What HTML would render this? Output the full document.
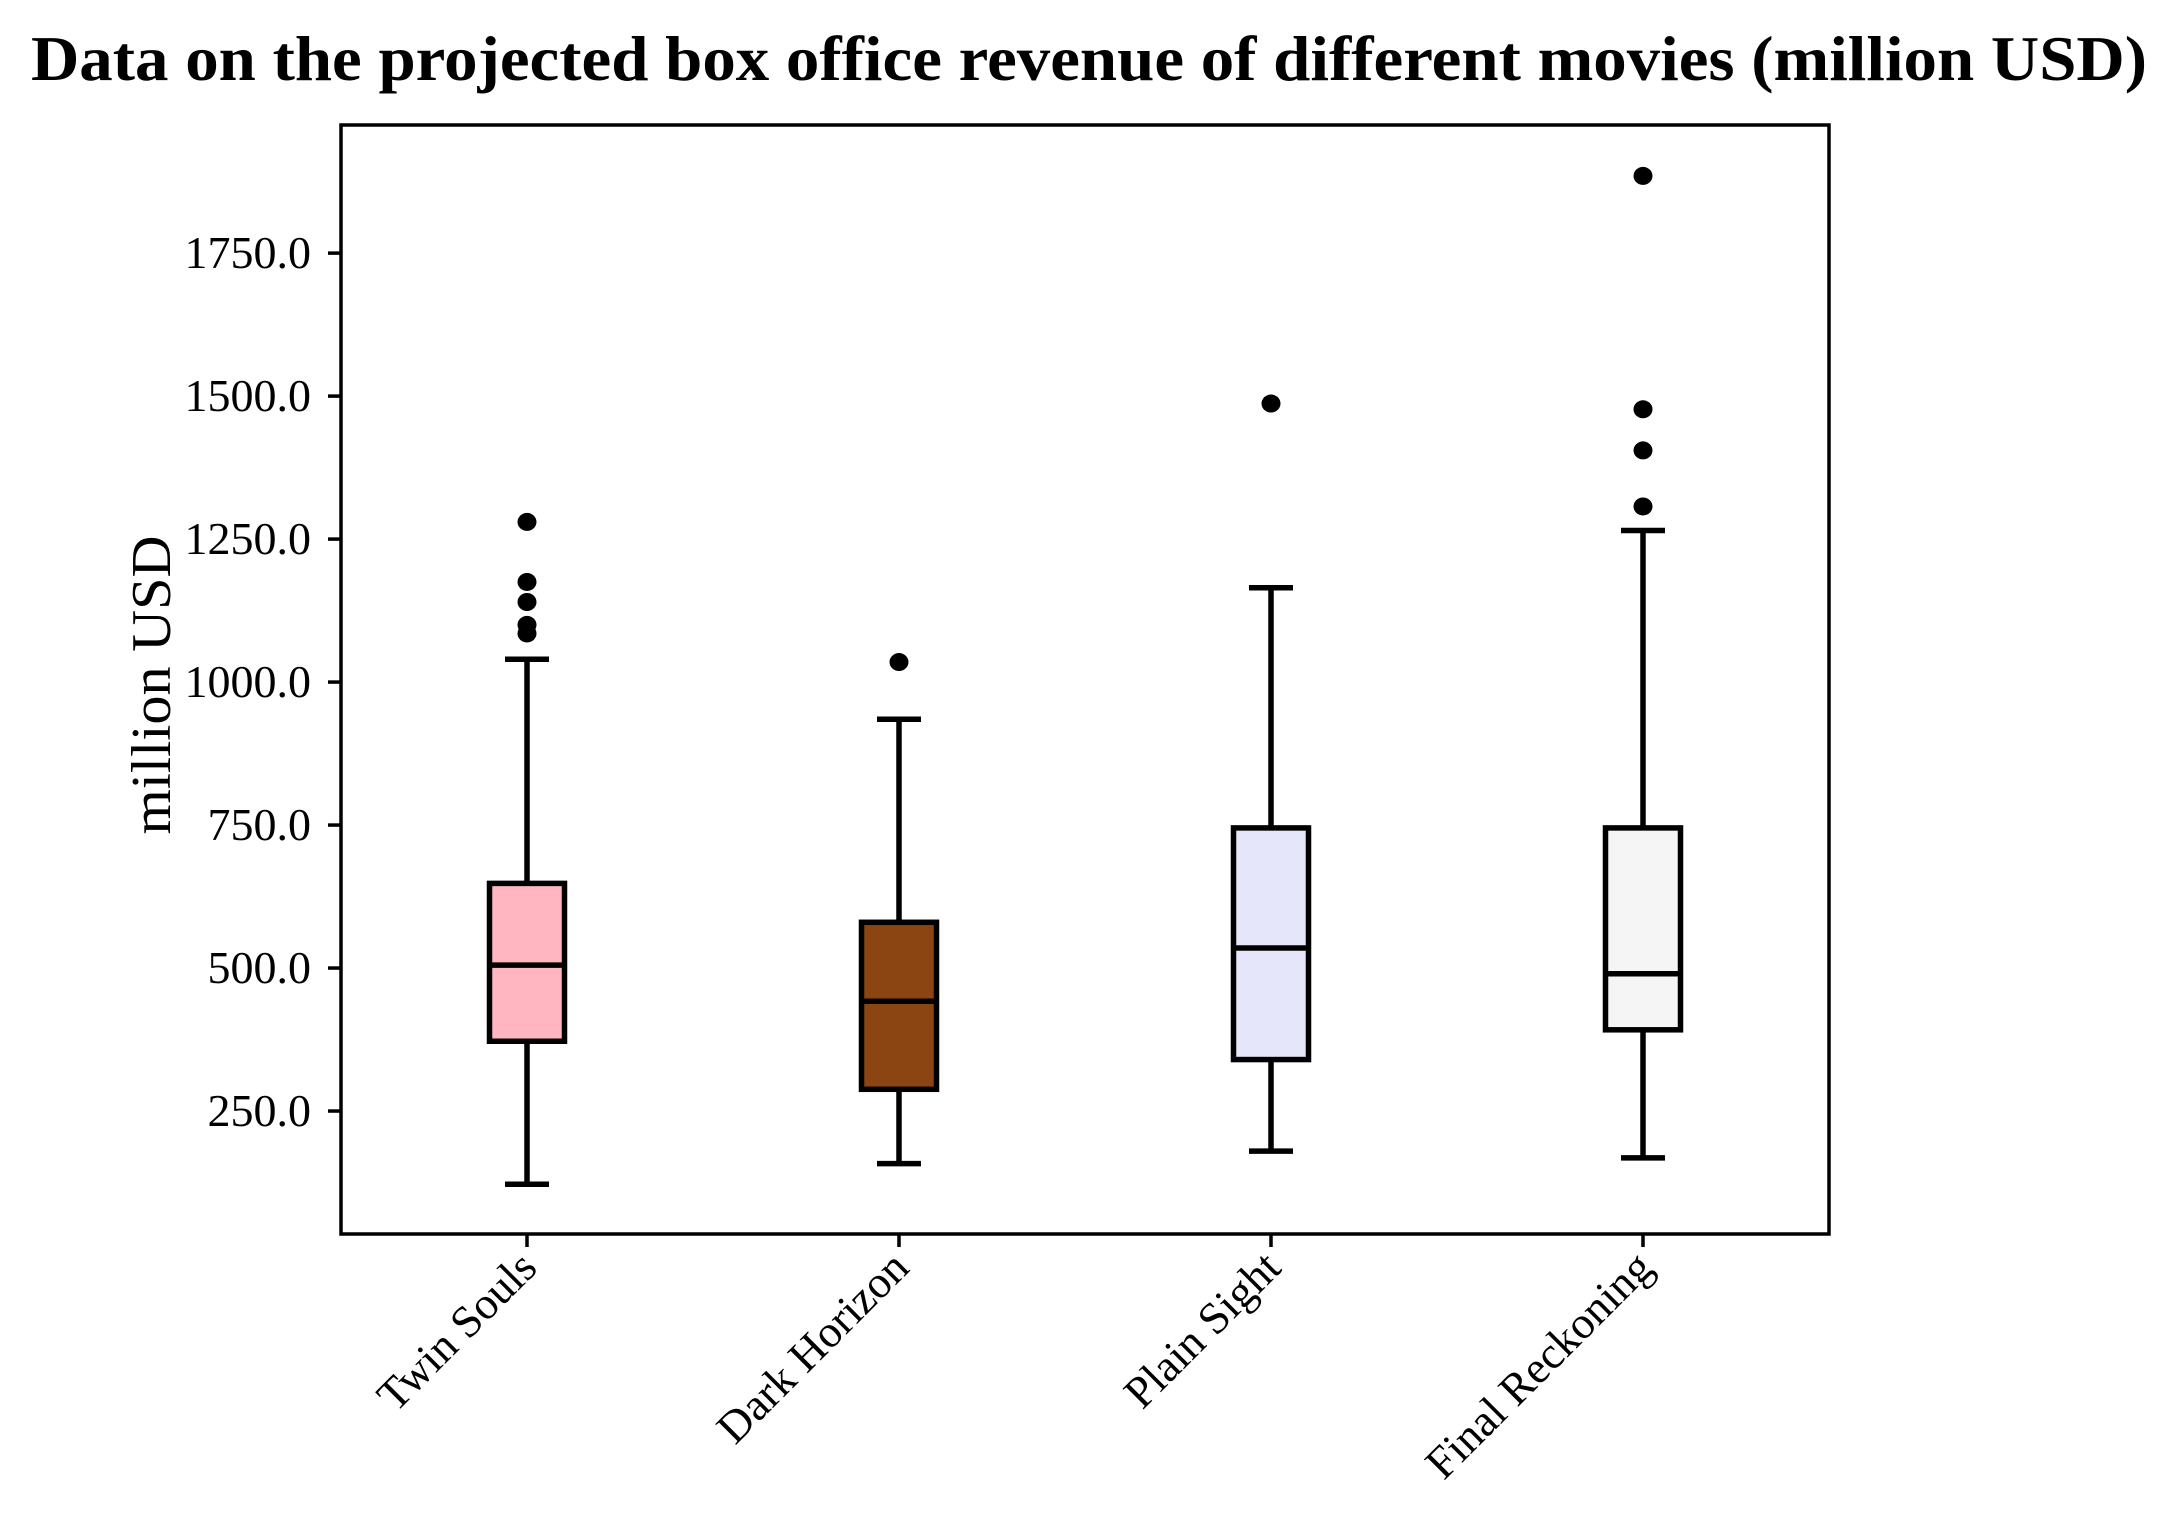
<!DOCTYPE html>
<html><head><meta charset="utf-8"><style>
html,body{margin:0;padding:0;background:#fff;}
svg{display:block;font-family:"Liberation Serif",serif;}
</style></head><body>
<svg id="chart" width="2169" height="1515" viewBox="0 0 2169 1515">
<text x="31" y="80" font-size="64" font-weight="bold" textLength="2116" lengthAdjust="spacingAndGlyphs">Data on the projected box office revenue of different movies (million USD)</text>
<text transform="translate(170,685) rotate(-90)" text-anchor="middle" font-size="56" textLength="299" lengthAdjust="spacingAndGlyphs">million USD</text>
<g id="plot"></g>
<rect x="341" y="125" width="1488" height="1109" fill="none" stroke="#000" stroke-width="3.5"/>
</svg>
<script>
const categories=["Twin Souls","Dark Horizon","Plain Sight","Final Reckoning"];
const whiskerLow=[122,158,180,168];
const q1Values=[372,288,340,392];
const medianValues=[505,442,535,490];
const q3Values=[648,580,745,745];
const whiskerHigh=[1040,935,1165,1265];
const outliers=[[1085,1100,1140,1175,1280],[1035],[1487],[1307,1405,1477,1885]];
const fills=["#ffb6c1","#8b4513","#e6e6fa","#f5f5f5"];
const yTicks=[250,500,750,1000,1250,1500,1750];

const NS="http://www.w3.org/2000/svg";
const g=document.getElementById('plot');
const L=341,R=1829,T=125,B=1234,yMin=35,yMax=1974;
function y(v){return B-(v-yMin)/(yMax-yMin)*(B-T);}
function x(i){return 527+i*372;}
function mk(tag,attrs,parent){const e=document.createElementNS(NS,tag);for(const k in attrs)e.setAttribute(k,attrs[k]);(parent||g).appendChild(e);return e;}

yTicks.forEach(v=>{
  const t=mk('line',{x1:L-13,x2:L,y1:y(v),y2:y(v),stroke:'#000','stroke-width':3.5});
  
  
  const lb=mk('text',{x:L-30,y:y(v)+15,'text-anchor':'end','font-size':46});
  lb.textContent=v.toFixed(1);
  
  
});

categories.forEach((c,i)=>{
  const cx=x(i),bw=75,cw=44;
  const grp=mk('g',{});
  
  
  const st={stroke:'#000','stroke-width':5.5,fill:'none'};
  mk('line',Object.assign({x1:cx,x2:cx,y1:y(whiskerLow[i]),y2:y(q1Values[i])},st),grp);
  mk('line',Object.assign({x1:cx,x2:cx,y1:y(q3Values[i]),y2:y(whiskerHigh[i])},st),grp);
  mk('line',Object.assign({x1:cx-cw/2,x2:cx+cw/2,y1:y(whiskerLow[i]),y2:y(whiskerLow[i])},st),grp);
  mk('line',Object.assign({x1:cx-cw/2,x2:cx+cw/2,y1:y(whiskerHigh[i]),y2:y(whiskerHigh[i])},st),grp);
  mk('rect',{x:cx-bw/2,y:y(q3Values[i]),width:bw,height:y(q1Values[i])-y(q3Values[i]),fill:fills[i],stroke:'#000','stroke-width':5.5},grp);
  mk('line',Object.assign({x1:cx-bw/2,x2:cx+bw/2,y1:y(medianValues[i]),y2:y(medianValues[i])},st),grp);
  outliers[i].forEach(v=>{
    const o=mk('ellipse',{cx:cx,cy:y(v),rx:9.5,ry:9,fill:'#000'},grp);
    
    
  });
  const t=mk('line',{x1:cx,x2:cx,y1:B,y2:B+13,stroke:'#000','stroke-width':3.5});
  
  
  const lb=mk('text',{transform:`translate(${cx+12},${B+36}) rotate(-45)`,'text-anchor':'end','font-size':45});
  lb.textContent=c;
  
  
});
</script>
</body></html>
